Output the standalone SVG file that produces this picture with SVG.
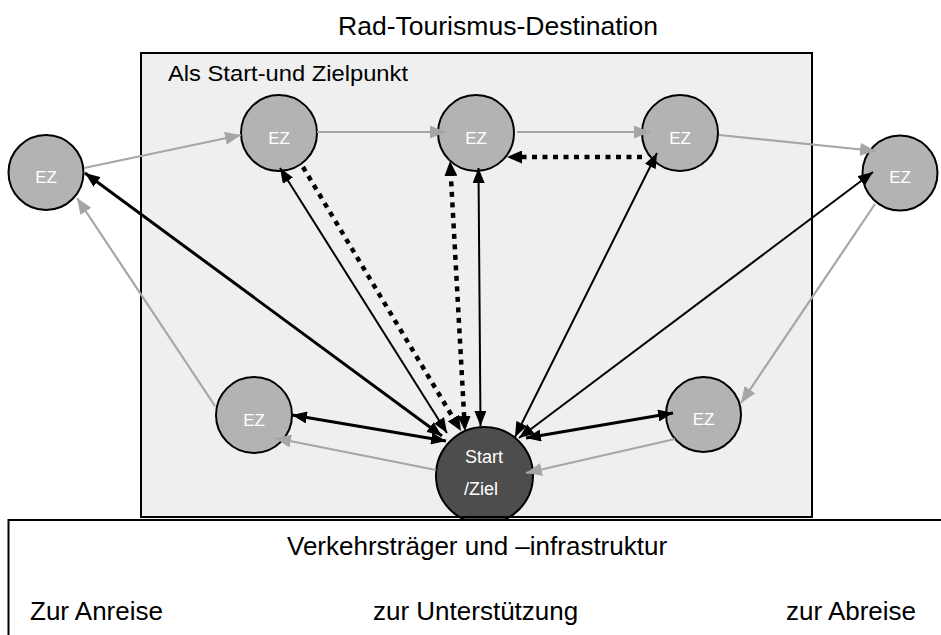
<svg xmlns="http://www.w3.org/2000/svg" width="941" height="635" viewBox="0 0 941 635">
<style>
.txt{font-family:"Liberation Sans",Arial,sans-serif;fill:#000}
.ez{fill:#b3b3b3;stroke:#000;stroke-width:2}
.st{fill:#4d4d4d;stroke:#000;stroke-width:2}
.lbl{font-family:"Liberation Sans",Arial,sans-serif;fill:#fff;font-size:17px;text-anchor:middle}
.g{stroke:#a6a6a6;stroke-width:2.2;fill:none;marker-end:url(#ag)}
.b{stroke:#000;stroke-width:2;fill:none;marker-start:url(#ab);marker-end:url(#ab)}
.bt{stroke-width:3}
.d{stroke:#000;stroke-width:4.5;fill:none;stroke-dasharray:5 5.5;marker-end:url(#ad)}
</style>
<defs>
<marker id="ag" markerUnits="userSpaceOnUse" markerWidth="16" markerHeight="13" refX="16" refY="6.5" orient="auto"><path d="M0,0 L16,6.5 L0,13 z" fill="#a6a6a6"/></marker>
<marker id="ab" markerUnits="userSpaceOnUse" markerWidth="15" markerHeight="12" refX="15" refY="6" orient="auto-start-reverse"><path d="M0,0 L15,6 L0,12 z" fill="#000"/></marker>
<marker id="ad" markerUnits="userSpaceOnUse" markerWidth="15" markerHeight="13" refX="5" refY="6.5" orient="auto-start-reverse"><path d="M0,0 L15,6.5 L0,13 z" fill="#000"/></marker>
</defs>
<rect width="941" height="635" fill="#fff"/>
<text class="txt" x="338" y="35" font-size="25" textLength="320" lengthAdjust="spacingAndGlyphs">Rad-Tourismus-Destination</text>
<g id="destination">
<rect x="141" y="53" width="671" height="464" fill="#efefef"/>
<text class="txt" x="168" y="81" font-size="22" textLength="240" lengthAdjust="spacingAndGlyphs">Als Start-und Zielpunkt</text>
</g>
<g id="ez-left"><circle class="ez" cx="46" cy="172.5" r="37.5"/><text class="lbl" x="46" y="182.5">EZ</text></g>
<g id="ez-top1"><circle class="ez" cx="279" cy="133" r="38"/><text class="lbl" x="279" y="143.5">EZ</text></g>
<g id="ez-top2"><circle class="ez" cx="476" cy="133" r="38"/><text class="lbl" x="476" y="143.5">EZ</text></g>
<g id="ez-top3"><circle class="ez" cx="680" cy="133" r="38"/><text class="lbl" x="680" y="143.5">EZ</text></g>
<g id="ez-right"><circle class="ez" cx="900" cy="173" r="37.5"/><text class="lbl" x="900" y="183">EZ</text></g>
<g id="ez-bottomleft"><circle class="ez" cx="254" cy="415" r="38"/><text class="lbl" x="254" y="425.5">EZ</text></g>
<g id="ez-bottomright"><circle class="ez" cx="703.5" cy="414.5" r="37.5"/><text class="lbl" x="703.5" y="425">EZ</text></g>
<g id="start-ziel"><circle class="st" cx="484.5" cy="475.5" r="48.5"/>
<text class="lbl" x="465" y="463" font-size="18" text-anchor="start" style="text-anchor:start;font-size:18px">Start</text>
<text class="lbl" x="464" y="495" style="text-anchor:start;font-size:18px">/Ziel</text></g>
<rect x="141" y="53" width="671" height="464" fill="none" stroke="#000" stroke-width="2"/>
<g id="connectors">
<path class="g" d="M84,168 L241,135"/>
<path class="g" d="M317,132 L446,132"/>
<path class="g" d="M517,132 L650,132"/>
<path class="g" d="M719,135 L876,151"/>
<path class="g" d="M875,204 L741,403"/>
<path class="g" d="M675,439 L526,473"/>
<path class="g" d="M436,470 L275,438"/>
<path class="g" d="M215,406 L77,198"/>
<path class="b bt" d="M85,173 L442,436"/>
<path class="b" d="M280,168 L447,433"/>
<path class="b" d="M478.5,168 L480.5,426"/>
<path class="b" d="M657,153 L515,437"/>
<path class="b" d="M873,172 L519,438"/>
<path class="b bt" d="M292,415 L446,441"/>
<path class="b bt" d="M673,413 L526,438"/>
<path class="d" d="M303,167 L455.9,422.4"/>
<path class="d" style="marker-start:url(#ad)" d="M450.6,171 L464.4,421"/>
<path class="d" d="M642,157 L517,157"/>
</g>
<g id="verkehr">
<rect x="8.5" y="520" width="940" height="130" fill="#fff" stroke="#000" stroke-width="2"/>
<text class="txt" x="287" y="555" font-size="26">Verkehrsträger und –infrastruktur</text>
<text class="txt" x="30" y="620" font-size="26">Zur Anreise</text>
<text class="txt" x="373" y="620" font-size="26">zur Unterstützung</text>
<text class="txt" x="786" y="620" font-size="26">zur Abreise</text>
</g>
</svg>
